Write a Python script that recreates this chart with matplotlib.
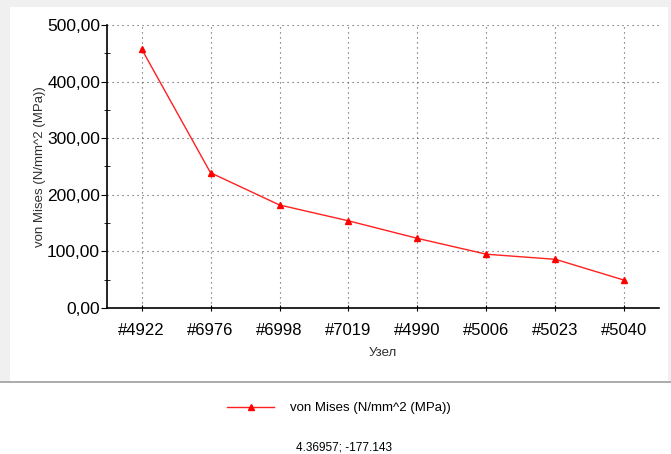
import numpy as np
import matplotlib
matplotlib.use("Agg")
import matplotlib.pyplot as plt
from matplotlib.patches import Rectangle
from matplotlib.lines import Line2D
from matplotlib.ticker import MultipleLocator, FuncFormatter

nodes = ['#4922', '#6976', '#6998', '#7019', '#4990', '#5006', '#5023', '#5040']
stress = [458, 239, 182, 154, 123, 95, 86, 49]
series_name = 'von Mises (N/mm^2 (MPa))'
cursor_text = '4.36957; -177.143'

plt.rcParams['font.family'] = ['Liberation Sans', 'DejaVu Sans']

W, H = 671, 454
fig = plt.figure(figsize=(W / 100, H / 100), dpi=100)
fig.patch.set_facecolor('#f0f0f0')

# white chart panel with a grey line under it
fig.add_artist(Rectangle((10 / W, 1 - 381 / H), 658 / W, 374 / H,
                         transform=fig.transFigure, facecolor='white',
                         edgecolor='none', zorder=0))
fig.add_artist(Rectangle((0, 0), 1, 1 - 383 / H,
                         transform=fig.transFigure, facecolor='white',
                         edgecolor='none', zorder=0))
fig.add_artist(Line2D([0, 1], [1 - 382 / H, 1 - 382 / H],
                      transform=fig.transFigure, color='#a0a0a0', lw=1.2))

ax = fig.add_axes([107 / W, 1 - 308 / H, 552 / W, 283 / H])
ax.set_facecolor('white')
x = np.arange(len(nodes))
ax.plot(x, stress, color='#ff2020', lw=1.0, marker='^', ms=4,
        mec='red', mfc='red', label=series_name)

ax.set_xlim(-0.5, len(nodes) - 0.5)
ax.set_ylim(0, 500)
ax.set_xticks(x)
ax.set_xticklabels(nodes, fontsize=12)
ax.yaxis.set_major_locator(MultipleLocator(100))
ax.yaxis.set_minor_locator(MultipleLocator(50))
ax.yaxis.set_major_formatter(FuncFormatter(lambda v, p: f'{v:.2f}'.replace('.', ',')))
ax.tick_params(axis='y', labelsize=12.5, length=4, direction='out', pad=1)
ax.tick_params(axis='y', which='minor', length=4, direction='inout')
ax.tick_params(axis='x', length=5, direction='inout', pad=8)
ax.grid(True, color='#505050', ls=(0, (1, 3.5)), lw=0.8)
for s in ['top', 'right']:
    ax.spines[s].set_visible(False)
for s in ['left', 'bottom']:
    ax.spines[s].set_color('black')
    ax.spines[s].set_linewidth(1.2)

ax.set_xlabel('Узел', fontsize=9.5, color='#303030', labelpad=7)
ax.set_ylabel(series_name, fontsize=9.5, color='#303030', labelpad=1)

fig.legend(loc='center', bbox_to_anchor=(0.505, 1 - 408 / H), frameon=False,
           fontsize=9.5, handlelength=3.6, handletextpad=1.2)
fig.text(0.512, 1 - 448 / H, cursor_text, ha='center', va='center', fontsize=8.5)

fig.savefig('out.png', dpi=100)
